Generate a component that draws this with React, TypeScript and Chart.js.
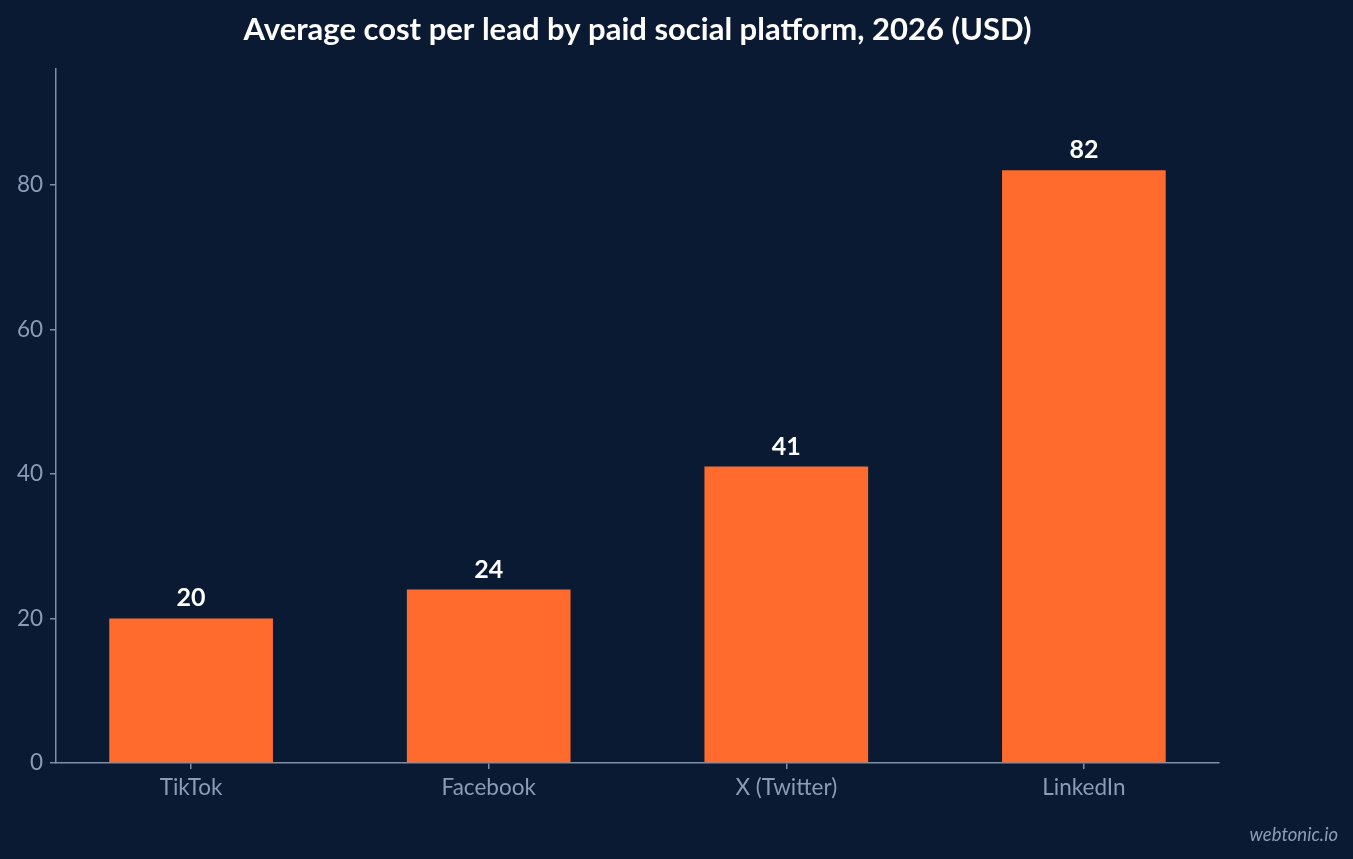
import React, { useEffect, useRef } from 'react';
import { Chart, registerables } from 'chart.js';

Chart.register(...registerables);

const platforms = ['TikTok', 'Facebook', 'X (Twitter)', 'LinkedIn'];
const costPerLead = [20, 24, 41, 82];
const yTicks = [0, 20, 40, 60, 80];

const BG = '#0b1a33';
const BAR = '#ff6b2c';
const AXIS = '#7f8da6';
const TICK_TEXT = '#8c9cb6';
const FONT = 'Lato, "Noto Sans", sans-serif';

const overlayPlugin = {
  id: 'overlay',
  beforeDraw(chart: any) {
    const { ctx, width, height } = chart;
    ctx.save();
    ctx.fillStyle = BG;
    ctx.fillRect(0, 0, width, height);
    ctx.restore();
  },
  afterDatasetsDraw(chart: any) {
    const { ctx, chartArea } = chart;
    const meta = chart.getDatasetMeta(0);
    ctx.save();
    ctx.fillStyle = '#ffffff';
    ctx.font = `bold 25px ${FONT}`;
    ctx.textAlign = 'center';
    ctx.textBaseline = 'alphabetic';
    meta.data.forEach((bar: any, i: number) => {
      ctx.fillText(String(costPerLead[i]), bar.x, bar.y - 12);
    });

    // title
    ctx.font = `bold 31px ${FONT}`;
    ctx.textBaseline = 'middle';
    ctx.fillText(
      'Average cost per lead by paid social platform, 2026 (USD)',
      (chartArea.left + chartArea.right) / 2,
      30
    );

    // watermark
    ctx.font = `italic 18.5px ${FONT}`;
    ctx.fillStyle = TICK_TEXT;
    ctx.textAlign = 'right';
    ctx.textBaseline = 'alphabetic';
    ctx.fillText('webtonic.io', 1338, 841);
    ctx.restore();
  }
};

const App: React.FC = () => {
  const chartRef = useRef<HTMLCanvasElement | null>(null);

  useEffect(() => {
    document.body.style.margin = '0';
    document.body.style.background = BG;
    let chart: Chart | undefined;
    if (chartRef.current) {
      chart = new Chart(chartRef.current, {
        type: 'bar',
        data: {
          datasets: [
            {
              label: 'Cost per lead',
              data: costPerLead.map((v, i) => ({ x: i, y: v })),
              backgroundColor: BAR,
              borderWidth: 0,
              barPercentage: 0.55,
              categoryPercentage: 1
            }
          ]
        },
        options: {
          animation: false,
          responsive: false,
          layout: { padding: { top: 69, right: 134, left: 0, bottom: 0 } },
          plugins: {
            legend: { display: false },
            tooltip: { enabled: false },
            title: { display: false }
          },
          scales: {
            x: {
              type: 'linear',
              offset: false,
              min: -0.454,
              max: 3.454,
              afterBuildTicks: (scale: any) => {
                scale.ticks = platforms.map((_, i) => ({ value: i }));
              },
              afterFit: (scale: any) => {
                scale.height = 96;
              },
              ticks: {
                callback: (value: any) => platforms[value] ?? '',
                color: TICK_TEXT,
                font: { family: FONT, size: 22.5 },
                padding: 5,
                maxRotation: 0,
                autoSkip: false
              },
              grid: {
                display: true,
                offset: false,
                drawOnChartArea: false,
                drawTicks: true,
                tickLength: 6,
                color: AXIS,
                lineWidth: 1.5
              },
              border: { display: true, color: AXIS, width: 1.5 }
            },
            y: {
              min: 0,
              max: 96,
              afterBuildTicks: (scale: any) => {
                scale.ticks = yTicks.map((v) => ({ value: v }));
              },
              afterFit: (scale: any) => {
                scale.width = 56;
              },
              ticks: {
                color: TICK_TEXT,
                font: { family: FONT, size: 22.5 },
                padding: 7
              },
              grid: {
                display: true,
                drawOnChartArea: false,
                drawTicks: true,
                tickLength: 6,
                color: AXIS,
                lineWidth: 1.5
              },
              border: { display: true, color: AXIS, width: 1.5 }
            }
          }
        },
        plugins: [overlayPlugin]
      });
    }
    return () => {
      if (chart) {
        chart.destroy();
      }
    };
  }, []);

  return (
    <div style={{ width: 1353, height: 859, background: BG }}>
      <canvas ref={chartRef} width={1353} height={859} style={{ display: 'block' }} />
    </div>
  );
};

export default App;
